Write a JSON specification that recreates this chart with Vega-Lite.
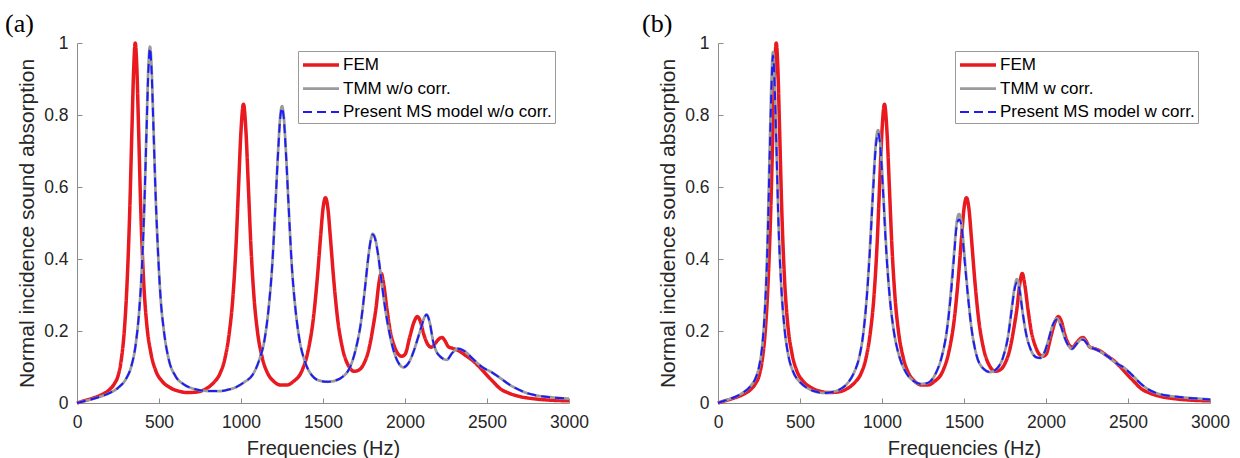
{
  "$schema": "https://vega.github.io/schema/vega-lite/v6.json",
  "padding": {"left": 5, "top": 11, "right": 5, "bottom": 0},
  "config": {
    "view": {"stroke": null},
    "font": "Liberation Sans",
    "axis": {
      "grid": false,
      "domainColor": "#8c8c8c",
      "tickColor": "#8c8c8c",
      "tickSize": -5,
      "labelFlush": false,
      "labelFont": "Liberation Sans",
      "labelFontSize": 17.5,
      "labelColor": "#262626",
      "titleFont": "Liberation Sans",
      "titleFontWeight": "normal",
      "titleColor": "#262626"
    },
    "axisX": {"labelPadding": 15, "titleFontSize": 20, "titlePadding": 8},
    "axisY": {"labelPadding": 14, "titleFontSize": 21, "titlePadding": 6},
    "legend": {
      "title": null,
      "symbolType": "M-1,0H3",
      "symbolSize": 324,
      "symbolStrokeWidth": 2,
      "labelOffset": 20,
      "labelLimit": 0,
      "labelFont": "Liberation Sans",
      "labelFontSize": 17,
      "labelColor": "#000000",
      "padding": 3,
      "rowPadding": 5,
      "strokeColor": "#9a9a9a",
      "fillColor": "#ffffff",
      "cornerRadius": 0
    },
    "title": {"font": "Liberation Serif", "fontSize": 26, "fontWeight": "normal", "color": "#000000", "anchor": "start", "frame": "group", "offset": -3}
  },
  "datasets": {
    "fem": [
      {"f": 0, "fem": 0}, {"f": 50, "fem": 0.007}, {"f": 100, "fem": 0.014}, {"f": 150, "fem": 0.023}, {"f": 200, "fem": 0.038},
      {"f": 230, "fem": 0.055}, {"f": 250, "fem": 0.075}, {"f": 270, "fem": 0.12}, {"f": 290, "fem": 0.21}, {"f": 305, "fem": 0.33},
      {"f": 320, "fem": 0.51}, {"f": 335, "fem": 0.76}, {"f": 345, "fem": 0.92}, {"f": 355, "fem": 1.0}, {"f": 365, "fem": 0.93},
      {"f": 375, "fem": 0.77}, {"f": 390, "fem": 0.52}, {"f": 405, "fem": 0.35}, {"f": 425, "fem": 0.22}, {"f": 450, "fem": 0.14},
      {"f": 480, "fem": 0.09}, {"f": 520, "fem": 0.06}, {"f": 570, "fem": 0.042}, {"f": 620, "fem": 0.033}, {"f": 670, "fem": 0.029},
      {"f": 720, "fem": 0.03}, {"f": 780, "fem": 0.038}, {"f": 830, "fem": 0.055}, {"f": 870, "fem": 0.08}, {"f": 900, "fem": 0.12},
      {"f": 930, "fem": 0.2}, {"f": 950, "fem": 0.29}, {"f": 970, "fem": 0.44}, {"f": 985, "fem": 0.6}, {"f": 1000, "fem": 0.756},
      {"f": 1015, "fem": 0.83}, {"f": 1030, "fem": 0.756}, {"f": 1045, "fem": 0.6}, {"f": 1060, "fem": 0.44}, {"f": 1080, "fem": 0.29},
      {"f": 1100, "fem": 0.2}, {"f": 1130, "fem": 0.125}, {"f": 1160, "fem": 0.085}, {"f": 1200, "fem": 0.06}, {"f": 1240, "fem": 0.05},
      {"f": 1280, "fem": 0.05}, {"f": 1320, "fem": 0.06}, {"f": 1370, "fem": 0.088}, {"f": 1410, "fem": 0.147}, {"f": 1440, "fem": 0.23},
      {"f": 1465, "fem": 0.345}, {"f": 1485, "fem": 0.46}, {"f": 1500, "fem": 0.54}, {"f": 1515, "fem": 0.57}, {"f": 1530, "fem": 0.54},
      {"f": 1545, "fem": 0.46}, {"f": 1565, "fem": 0.345}, {"f": 1590, "fem": 0.23}, {"f": 1620, "fem": 0.15}, {"f": 1660, "fem": 0.1},
      {"f": 1690, "fem": 0.088}, {"f": 1720, "fem": 0.092}, {"f": 1750, "fem": 0.11}, {"f": 1780, "fem": 0.15}, {"f": 1805, "fem": 0.21},
      {"f": 1825, "fem": 0.27}, {"f": 1840, "fem": 0.33}, {"f": 1855, "fem": 0.36}, {"f": 1870, "fem": 0.33}, {"f": 1890, "fem": 0.26},
      {"f": 1910, "fem": 0.2}, {"f": 1935, "fem": 0.158}, {"f": 1960, "fem": 0.135}, {"f": 1980, "fem": 0.13}, {"f": 2000, "fem": 0.135},
      {"f": 2030, "fem": 0.185}, {"f": 2055, "fem": 0.225}, {"f": 2075, "fem": 0.24}, {"f": 2095, "fem": 0.225}, {"f": 2115, "fem": 0.19},
      {"f": 2140, "fem": 0.162}, {"f": 2160, "fem": 0.155}, {"f": 2185, "fem": 0.166}, {"f": 2205, "fem": 0.177}, {"f": 2225, "fem": 0.182},
      {"f": 2245, "fem": 0.172}, {"f": 2265, "fem": 0.156}, {"f": 2290, "fem": 0.152}, {"f": 2320, "fem": 0.147}, {"f": 2370, "fem": 0.132},
      {"f": 2420, "fem": 0.115}, {"f": 2460, "fem": 0.097}, {"f": 2500, "fem": 0.077}, {"f": 2540, "fem": 0.058}, {"f": 2580, "fem": 0.04},
      {"f": 2630, "fem": 0.028}, {"f": 2690, "fem": 0.019}, {"f": 2780, "fem": 0.012}, {"f": 2880, "fem": 0.008}, {"f": 3000, "fem": 0.006}
    ],
    "tmmA": [
      {"f": 0, "tmm": 0, "ms": 0}, {"f": 50, "tmm": 0.006, "ms": 0.006}, {"f": 100, "tmm": 0.012, "ms": 0.012}, {"f": 150, "tmm": 0.019, "ms": 0.019},
      {"f": 200, "tmm": 0.028, "ms": 0.028}, {"f": 250, "tmm": 0.042, "ms": 0.042}, {"f": 300, "tmm": 0.068, "ms": 0.068}, {"f": 330, "tmm": 0.1, "ms": 0.1},
      {"f": 360, "tmm": 0.17, "ms": 0.17}, {"f": 380, "tmm": 0.26, "ms": 0.26}, {"f": 395, "tmm": 0.37, "ms": 0.37}, {"f": 410, "tmm": 0.54, "ms": 0.54},
      {"f": 425, "tmm": 0.78, "ms": 0.77}, {"f": 435, "tmm": 0.93, "ms": 0.92}, {"f": 445, "tmm": 0.99, "ms": 0.985}, {"f": 455, "tmm": 0.93, "ms": 0.92},
      {"f": 465, "tmm": 0.79, "ms": 0.78}, {"f": 480, "tmm": 0.57, "ms": 0.57}, {"f": 495, "tmm": 0.41, "ms": 0.41}, {"f": 510, "tmm": 0.29, "ms": 0.29},
      {"f": 530, "tmm": 0.2, "ms": 0.2}, {"f": 560, "tmm": 0.12, "ms": 0.12}, {"f": 600, "tmm": 0.075, "ms": 0.075}, {"f": 650, "tmm": 0.052, "ms": 0.052},
      {"f": 700, "tmm": 0.041, "ms": 0.041}, {"f": 760, "tmm": 0.035, "ms": 0.035}, {"f": 820, "tmm": 0.033, "ms": 0.033}, {"f": 870, "tmm": 0.033, "ms": 0.033},
      {"f": 920, "tmm": 0.037, "ms": 0.037}, {"f": 970, "tmm": 0.044, "ms": 0.044}, {"f": 1020, "tmm": 0.058, "ms": 0.058}, {"f": 1070, "tmm": 0.078, "ms": 0.078},
      {"f": 1110, "tmm": 0.118, "ms": 0.118}, {"f": 1145, "tmm": 0.18, "ms": 0.18}, {"f": 1170, "tmm": 0.27, "ms": 0.27}, {"f": 1190, "tmm": 0.38, "ms": 0.38},
      {"f": 1210, "tmm": 0.55, "ms": 0.55}, {"f": 1225, "tmm": 0.69, "ms": 0.685}, {"f": 1240, "tmm": 0.8, "ms": 0.795}, {"f": 1250, "tmm": 0.825, "ms": 0.82},
      {"f": 1260, "tmm": 0.8, "ms": 0.795}, {"f": 1275, "tmm": 0.69, "ms": 0.685}, {"f": 1290, "tmm": 0.55, "ms": 0.55}, {"f": 1310, "tmm": 0.38, "ms": 0.38},
      {"f": 1330, "tmm": 0.27, "ms": 0.27}, {"f": 1355, "tmm": 0.18, "ms": 0.18}, {"f": 1390, "tmm": 0.115, "ms": 0.115}, {"f": 1430, "tmm": 0.078, "ms": 0.078},
      {"f": 1480, "tmm": 0.062, "ms": 0.062}, {"f": 1530, "tmm": 0.059, "ms": 0.059}, {"f": 1580, "tmm": 0.063, "ms": 0.063}, {"f": 1620, "tmm": 0.073, "ms": 0.073},
      {"f": 1660, "tmm": 0.095, "ms": 0.095}, {"f": 1700, "tmm": 0.15, "ms": 0.15}, {"f": 1730, "tmm": 0.22, "ms": 0.22}, {"f": 1755, "tmm": 0.315, "ms": 0.315},
      {"f": 1775, "tmm": 0.4, "ms": 0.4}, {"f": 1790, "tmm": 0.45, "ms": 0.45}, {"f": 1804, "tmm": 0.47, "ms": 0.468}, {"f": 1820, "tmm": 0.454, "ms": 0.452},
      {"f": 1835, "tmm": 0.415, "ms": 0.415}, {"f": 1855, "tmm": 0.345, "ms": 0.345}, {"f": 1880, "tmm": 0.26, "ms": 0.26}, {"f": 1910, "tmm": 0.184, "ms": 0.184},
      {"f": 1940, "tmm": 0.132, "ms": 0.132}, {"f": 1965, "tmm": 0.108, "ms": 0.108}, {"f": 1990, "tmm": 0.099, "ms": 0.099}, {"f": 2020, "tmm": 0.11, "ms": 0.11},
      {"f": 2050, "tmm": 0.14, "ms": 0.14}, {"f": 2075, "tmm": 0.175, "ms": 0.175}, {"f": 2100, "tmm": 0.212, "ms": 0.212}, {"f": 2118, "tmm": 0.238, "ms": 0.237},
      {"f": 2132, "tmm": 0.246, "ms": 0.245}, {"f": 2150, "tmm": 0.225, "ms": 0.225}, {"f": 2172, "tmm": 0.17, "ms": 0.17}, {"f": 2195, "tmm": 0.14, "ms": 0.14},
      {"f": 2213, "tmm": 0.13, "ms": 0.13}, {"f": 2254, "tmm": 0.12, "ms": 0.12}, {"f": 2290, "tmm": 0.14, "ms": 0.14}, {"f": 2325, "tmm": 0.151, "ms": 0.151},
      {"f": 2360, "tmm": 0.145, "ms": 0.145}, {"f": 2415, "tmm": 0.122, "ms": 0.122}, {"f": 2470, "tmm": 0.1, "ms": 0.1}, {"f": 2530, "tmm": 0.085, "ms": 0.085},
      {"f": 2585, "tmm": 0.068, "ms": 0.068}, {"f": 2640, "tmm": 0.05, "ms": 0.05}, {"f": 2690, "tmm": 0.038, "ms": 0.038}, {"f": 2740, "tmm": 0.028, "ms": 0.028},
      {"f": 2790, "tmm": 0.022, "ms": 0.022}, {"f": 2890, "tmm": 0.016, "ms": 0.016}, {"f": 3000, "tmm": 0.012, "ms": 0.012}
    ],
    "tmmB": [
      {"f": 0, "tmm": 0, "ms": 0}, {"f": 50, "tmm": 0.008, "ms": 0.008}, {"f": 100, "tmm": 0.016, "ms": 0.016}, {"f": 150, "tmm": 0.028, "ms": 0.028},
      {"f": 200, "tmm": 0.048, "ms": 0.048}, {"f": 230, "tmm": 0.07, "ms": 0.07}, {"f": 250, "tmm": 0.1, "ms": 0.1}, {"f": 270, "tmm": 0.16, "ms": 0.16},
      {"f": 285, "tmm": 0.25, "ms": 0.25}, {"f": 300, "tmm": 0.42, "ms": 0.41}, {"f": 315, "tmm": 0.7, "ms": 0.68}, {"f": 325, "tmm": 0.88, "ms": 0.86},
      {"f": 335, "tmm": 0.975, "ms": 0.965}, {"f": 345, "tmm": 0.9, "ms": 0.89}, {"f": 355, "tmm": 0.74, "ms": 0.73}, {"f": 370, "tmm": 0.49, "ms": 0.48},
      {"f": 385, "tmm": 0.33, "ms": 0.33}, {"f": 405, "tmm": 0.21, "ms": 0.21}, {"f": 430, "tmm": 0.13, "ms": 0.13}, {"f": 460, "tmm": 0.085, "ms": 0.085},
      {"f": 500, "tmm": 0.058, "ms": 0.058}, {"f": 550, "tmm": 0.04, "ms": 0.04}, {"f": 600, "tmm": 0.031, "ms": 0.031}, {"f": 640, "tmm": 0.028, "ms": 0.028},
      {"f": 690, "tmm": 0.03, "ms": 0.03}, {"f": 740, "tmm": 0.037, "ms": 0.037}, {"f": 790, "tmm": 0.055, "ms": 0.055}, {"f": 830, "tmm": 0.085, "ms": 0.085},
      {"f": 860, "tmm": 0.125, "ms": 0.125}, {"f": 885, "tmm": 0.19, "ms": 0.19}, {"f": 906, "tmm": 0.29, "ms": 0.285}, {"f": 926, "tmm": 0.43, "ms": 0.42},
      {"f": 946, "tmm": 0.6, "ms": 0.59}, {"f": 962, "tmm": 0.72, "ms": 0.71}, {"f": 976, "tmm": 0.758, "ms": 0.75}, {"f": 990, "tmm": 0.72, "ms": 0.71},
      {"f": 1006, "tmm": 0.6, "ms": 0.59}, {"f": 1026, "tmm": 0.43, "ms": 0.42}, {"f": 1046, "tmm": 0.3, "ms": 0.3}, {"f": 1072, "tmm": 0.2, "ms": 0.2},
      {"f": 1102, "tmm": 0.135, "ms": 0.135}, {"f": 1140, "tmm": 0.09, "ms": 0.09}, {"f": 1190, "tmm": 0.062, "ms": 0.062}, {"f": 1240, "tmm": 0.053, "ms": 0.053},
      {"f": 1280, "tmm": 0.056, "ms": 0.056}, {"f": 1325, "tmm": 0.08, "ms": 0.08}, {"f": 1365, "tmm": 0.13, "ms": 0.13}, {"f": 1395, "tmm": 0.2, "ms": 0.2},
      {"f": 1420, "tmm": 0.31, "ms": 0.3}, {"f": 1440, "tmm": 0.42, "ms": 0.41}, {"f": 1455, "tmm": 0.5, "ms": 0.49}, {"f": 1470, "tmm": 0.525, "ms": 0.51},
      {"f": 1485, "tmm": 0.5, "ms": 0.49}, {"f": 1500, "tmm": 0.425, "ms": 0.415}, {"f": 1520, "tmm": 0.32, "ms": 0.315}, {"f": 1545, "tmm": 0.21, "ms": 0.21},
      {"f": 1575, "tmm": 0.135, "ms": 0.135}, {"f": 1615, "tmm": 0.097, "ms": 0.097}, {"f": 1659, "tmm": 0.086, "ms": 0.086}, {"f": 1700, "tmm": 0.095, "ms": 0.095},
      {"f": 1740, "tmm": 0.13, "ms": 0.13}, {"f": 1770, "tmm": 0.19, "ms": 0.188}, {"f": 1790, "tmm": 0.26, "ms": 0.255}, {"f": 1808, "tmm": 0.32, "ms": 0.315},
      {"f": 1823, "tmm": 0.344, "ms": 0.335}, {"f": 1838, "tmm": 0.32, "ms": 0.315}, {"f": 1858, "tmm": 0.25, "ms": 0.25}, {"f": 1880, "tmm": 0.19, "ms": 0.19},
      {"f": 1910, "tmm": 0.145, "ms": 0.145}, {"f": 1940, "tmm": 0.127, "ms": 0.127}, {"f": 1963, "tmm": 0.125, "ms": 0.125}, {"f": 1990, "tmm": 0.14, "ms": 0.14},
      {"f": 2015, "tmm": 0.175, "ms": 0.175}, {"f": 2040, "tmm": 0.215, "ms": 0.215}, {"f": 2067, "tmm": 0.235, "ms": 0.232}, {"f": 2090, "tmm": 0.215, "ms": 0.215},
      {"f": 2115, "tmm": 0.18, "ms": 0.18}, {"f": 2140, "tmm": 0.157, "ms": 0.157}, {"f": 2158, "tmm": 0.15, "ms": 0.15}, {"f": 2180, "tmm": 0.16, "ms": 0.16},
      {"f": 2205, "tmm": 0.174, "ms": 0.174}, {"f": 2226, "tmm": 0.178, "ms": 0.176}, {"f": 2245, "tmm": 0.168, "ms": 0.168}, {"f": 2270, "tmm": 0.155, "ms": 0.155},
      {"f": 2300, "tmm": 0.15, "ms": 0.15}, {"f": 2340, "tmm": 0.14, "ms": 0.14}, {"f": 2380, "tmm": 0.128, "ms": 0.128}, {"f": 2430, "tmm": 0.11, "ms": 0.11},
      {"f": 2470, "tmm": 0.1, "ms": 0.1}, {"f": 2520, "tmm": 0.08, "ms": 0.08}, {"f": 2570, "tmm": 0.057, "ms": 0.057}, {"f": 2616, "tmm": 0.04, "ms": 0.04},
      {"f": 2670, "tmm": 0.028, "ms": 0.028}, {"f": 2750, "tmm": 0.02, "ms": 0.02}, {"f": 2850, "tmm": 0.015, "ms": 0.015}, {"f": 3000, "tmm": 0.01, "ms": 0.01}
    ]
  },
  "spacing": 53,
  "resolve": {"scale": {"color": "independent", "strokeDash": "independent", "strokeWidth": "independent"}, "legend": {"color": "independent", "strokeDash": "independent", "strokeWidth": "independent"}},
  "hconcat": [
    {
      "width": 492,
      "height": 360,
      "title": {"text": "(a)", "dx": -72},
      "encoding": {
        "x": {"field": "f", "type": "quantitative", "title": "Frequencies (Hz)", "scale": {"domain": [0, 3000], "nice": false}, "axis": {"values": [0, 500, 1000, 1500, 2000, 2500, 3000], "format": "d"}},
        "y": {"field": "y", "type": "quantitative", "title": "Normal incidence sound absorption", "scale": {"domain": [0, 1], "nice": false}, "axis": {"values": [0, 0.2, 0.4, 0.6, 0.8, 1], "format": "~g"}},
        "color": {"field": "k", "type": "nominal", "scale": {"domain": ["fem", "tmm", "ms"], "range": ["#e8191f", "#9b9b9b", "#1c1cf5"]}, "legend": {"title": null, "orient": "none", "legendX": 221, "legendY": 8, "labelExpr": "datum.label == 'fem' ? 'FEM' : datum.label == 'tmm' ? 'TMM w/o corr.' : 'Present MS model w/o corr.'"}},
        "strokeDash": {"field": "k", "type": "nominal", "scale": {"domain": ["fem", "tmm", "ms"], "range": [[1, 0], [1, 0], [9, 5]]}, "legend": {"title": null, "orient": "none", "legendX": 221, "legendY": 8, "labelExpr": "datum.label == 'fem' ? 'FEM' : datum.label == 'tmm' ? 'TMM w/o corr.' : 'Present MS model w/o corr.'"}},
        "strokeWidth": {"field": "k", "type": "nominal", "scale": {"domain": ["fem", "tmm", "ms"], "range": [3.5, 2, 2.5]}, "legend": {"title": null, "orient": "none", "legendX": 221, "legendY": 8, "labelExpr": "datum.label == 'fem' ? 'FEM' : datum.label == 'tmm' ? 'TMM w/o corr.' : 'Present MS model w/o corr.'"}}
      },
      "layer": [
        {"data": {"name": "fem"}, "transform": [{"fold": ["fem"], "as": ["k", "y"]}], "mark": {"type": "line", "interpolate": "monotone"}},
        {"data": {"name": "tmmA"}, "transform": [{"fold": ["tmm"], "as": ["k", "y"]}], "mark": {"type": "line", "interpolate": "monotone"}},
        {"data": {"name": "tmmA"}, "transform": [{"fold": ["ms"], "as": ["k", "y"]}], "mark": {"type": "line", "interpolate": "monotone"}}
      ]
    },
    {
      "width": 492,
      "height": 360,
      "title": {"text": "(b)", "dx": -76},
      "encoding": {
        "x": {"field": "f", "type": "quantitative", "title": "Frequencies (Hz)", "scale": {"domain": [0, 3000], "nice": false}, "axis": {"values": [0, 500, 1000, 1500, 2000, 2500, 3000], "format": "d"}},
        "y": {"field": "y", "type": "quantitative", "title": "Normal incidence sound absorption", "scale": {"domain": [0, 1], "nice": false}, "axis": {"values": [0, 0.2, 0.4, 0.6, 0.8, 1], "format": "~g"}},
        "color": {"field": "k", "type": "nominal", "scale": {"domain": ["fem", "tmm", "ms"], "range": ["#e8191f", "#9b9b9b", "#1c1cf5"]}, "legend": {"title": null, "orient": "none", "legendX": 237, "legendY": 8, "labelExpr": "datum.label == 'fem' ? 'FEM' : datum.label == 'tmm' ? 'TMM w corr.' : 'Present MS model w corr.'"}},
        "strokeDash": {"field": "k", "type": "nominal", "scale": {"domain": ["fem", "tmm", "ms"], "range": [[1, 0], [1, 0], [9, 5]]}, "legend": {"title": null, "orient": "none", "legendX": 237, "legendY": 8, "labelExpr": "datum.label == 'fem' ? 'FEM' : datum.label == 'tmm' ? 'TMM w corr.' : 'Present MS model w corr.'"}},
        "strokeWidth": {"field": "k", "type": "nominal", "scale": {"domain": ["fem", "tmm", "ms"], "range": [3.5, 2, 2.5]}, "legend": {"title": null, "orient": "none", "legendX": 237, "legendY": 8, "labelExpr": "datum.label == 'fem' ? 'FEM' : datum.label == 'tmm' ? 'TMM w corr.' : 'Present MS model w corr.'"}}
      },
      "layer": [
        {"data": {"name": "fem"}, "transform": [{"fold": ["fem"], "as": ["k", "y"]}], "mark": {"type": "line", "interpolate": "monotone"}},
        {"data": {"name": "tmmB"}, "transform": [{"fold": ["tmm"], "as": ["k", "y"]}], "mark": {"type": "line", "interpolate": "monotone"}},
        {"data": {"name": "tmmB"}, "transform": [{"fold": ["ms"], "as": ["k", "y"]}], "mark": {"type": "line", "interpolate": "monotone"}}
      ]
    }
  ]
}
